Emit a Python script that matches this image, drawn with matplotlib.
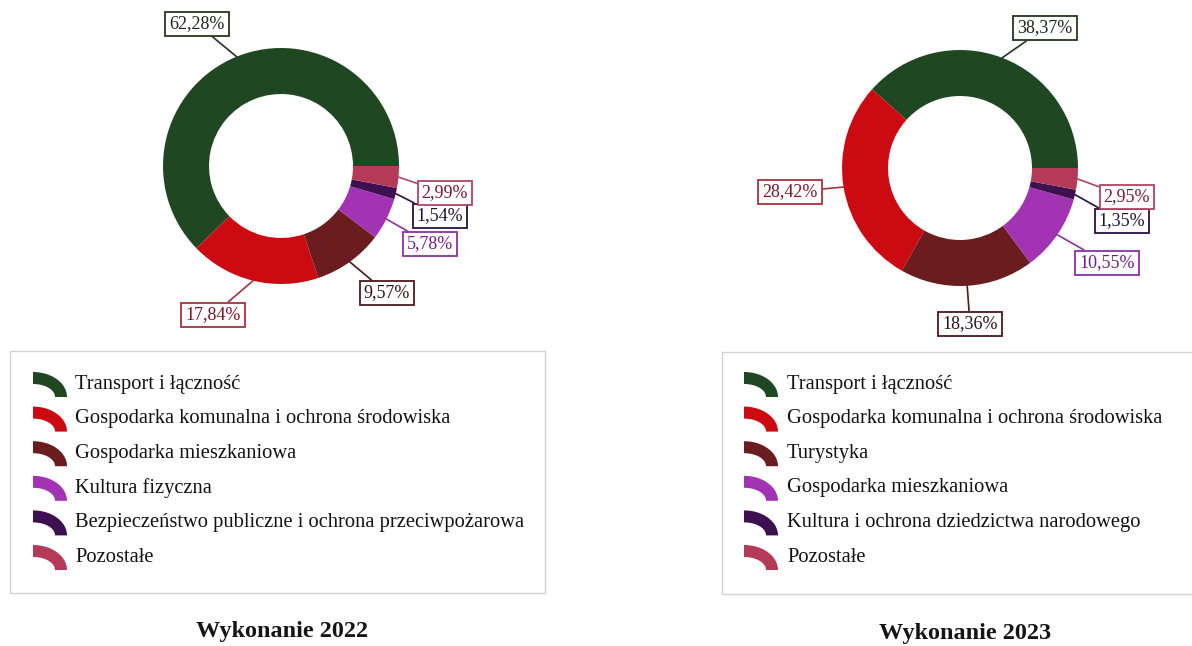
import numpy as np
import matplotlib
matplotlib.use("Agg")
import matplotlib.pyplot as plt
from matplotlib.patches import Polygon, Rectangle

plt.rcParams["font.family"] = ["Liberation Serif", "DejaVu Serif"]

# ── Data ─────────────────────────────────────
labels_2022 = ["Transport i łączność",
               "Gospodarka komunalna i ochrona środowiska",
               "Gospodarka mieszkaniowa",
               "Kultura fizyczna",
               "Bezpieczeństwo publiczne i ochrona przeciwpożarowa",
               "Pozostałe"]
shares_2022 = [62.28, 17.84, 9.57, 5.78, 1.54, 2.99]

labels_2023 = ["Transport i łączność",
               "Gospodarka komunalna i ochrona środowiska",
               "Turystyka",
               "Gospodarka mieszkaniowa",
               "Kultura i ochrona dziedzictwa narodowego",
               "Pozostałe"]
shares_2023 = [38.37, 28.42, 18.36, 10.55, 1.35, 2.95]

titles = ["Wykonanie 2022", "Wykonanie 2023"]

# ── Styling ──────────────────────────────────
W, H = 1192, 646
slice_colors = ["#1f4822", "#cc0a12", "#6a1c1e", "#a234b4", "#3d1150", "#b53a58"]
text_colors  = ["#1c261c", "#7c1426", "#2e1214", "#6c1f86", "#1c1236", "#7c1432"]
edge_colors  = ["#24361f", "#a8303e", "#4a1a1c", "#8c30a4", "#2a1244", "#b04462"]

# pixel positions of the percentage boxes (x, y from top)
label_pos_2022 = [(197, 24), (213, 315), (387, 293), (430, 244), (440, 216), (445, 193)]
label_pos_2023 = [(1045, 28), (790, 192), (970, 324), (1107, 263), (1122, 221), (1127, 197)]

R = 118         # outer radius in pixels
HOLE = 0.61     # inner / outer radius

fig = plt.figure(figsize=(W / 100, H / 100), dpi=100)
ov = fig.add_axes([0, 0, 1, 1])
ov.set_xlim(0, W)
ov.set_ylim(H, 0)
ov.axis("off")


def arc_icon(ax, x0, y0, color):
    # quarter of a flattened ring, like a slice seen edge-on
    t = np.linspace(0, np.pi / 2, 40)
    outer = np.c_[x0 + 34 * np.cos(t), y0 - 25 * np.sin(t)]
    inner = np.c_[x0 + 22 * np.cos(t[::-1]), y0 - 13 * np.sin(t[::-1])]
    ax.add_patch(Polygon(np.vstack([outer, inner]), closed=True,
                         facecolor=color, edgecolor="none"))


def donut(cx, cy, shares, positions):
    ax = fig.add_axes([(cx - R) / W, (H - cy - R) / H, 2 * R / W, 2 * R / H])
    wedges, _ = ax.pie(shares, colors=slice_colors, startangle=0,
                       radius=1, wedgeprops=dict(width=1 - HOLE, linewidth=0))
    ax.set_xlim(-1, 1)
    ax.set_ylim(-1, 1)
    ax.axis("off")
    for i, (w, v, (px, py)) in enumerate(zip(wedges, shares, positions)):
        ang = np.deg2rad((w.theta1 + w.theta2) / 2)
        ax.annotate(f"{v:.2f}".replace(".", ",") + "%",
                    xy=(np.cos(ang), np.sin(ang)), xycoords="data",
                    xytext=(px, H - py), textcoords="figure pixels",
                    ha="center", va="center", fontsize=13,
                    color=text_colors[i], annotation_clip=False,
                    bbox=dict(boxstyle="square,pad=0.22", facecolor="white",
                              edgecolor=edge_colors[i], linewidth=1.3),
                    arrowprops=dict(arrowstyle="-", color=edge_colors[i],
                                    linewidth=1.2, shrinkA=0, shrinkB=0))


def legend_box(x, y, w, h, labels, icon_x, text_x):
    ov.add_patch(Rectangle((x, y), w, h, facecolor="none",
                           edgecolor="#d2d2d2", linewidth=1.0))
    for i, lab in enumerate(labels):
        yc = 384 + 34.6 * i
        arc_icon(ov, icon_x, yc + 13, slice_colors[i])
        ov.text(text_x, yc, lab, fontsize=14.8, va="center", ha="left",
                color="#111111")


donut(281, 166, shares_2022, label_pos_2022)
donut(960, 168, shares_2023, label_pos_2023)

legend_box(10, 351, 535, 242, labels_2022, 33, 75)
legend_box(722, 352, 500, 242, labels_2023, 744, 787)

ov.text(282, 632, titles[0], fontsize=17.5, fontweight="bold",
        ha="center", va="center", color="#151515")
ov.text(965, 633, titles[1], fontsize=17.5, fontweight="bold",
        ha="center", va="center", color="#151515")

plt.savefig("out.png", dpi=100)
